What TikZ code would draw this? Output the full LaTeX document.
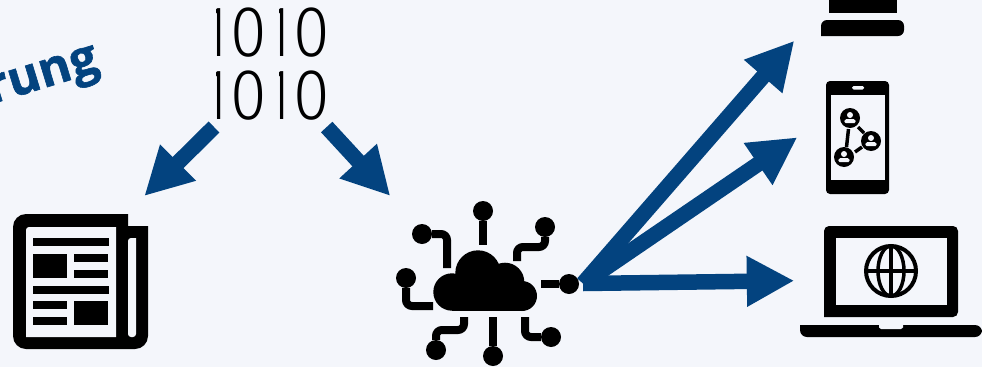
\documentclass[tikz,border=0pt]{standalone}
\usepackage{fontspec}
\usetikzlibrary{arrows.meta}
\setmainfont{Open Sans}[BoldFeatures={FakeBold=1.2}]
\newfontfamily\bitsfont{Fira Sans}[UprightFont=* Light]
\definecolor{arrowblue}{HTML}{03437F}
\definecolor{paperbg}{HTML}{F4F6FB}
\newcommand{\bitone}{\makebox[31.5pt]{\scalebox{.77}[1]{1}}}
\newcommand{\bitzero}{\makebox[31.5pt]{\hspace{1.5pt}\scalebox{.92}[1]{0}}}

\begin{document}
\begin{tikzpicture}[x=1pt, y=-1pt]
    \tikzstyle{bigarrow} = [draw=arrowblue, line width=15.5pt, -{Triangle[length=47.5pt,width=47.5pt]}]
    \tikzstyle{wire} = [draw=black, line width=8pt, rounded corners=6pt]
    \tikzstyle{pin} = [circle, fill=black, inner sep=0pt, minimum size=20pt]
    \tikzstyle{bits} = [inner sep=0pt, text=black, font=\bitsfont\fontsize{72}{72}\selectfont]
    \tikzstyle{hole} = [fill=paperbg]
    \useasboundingbox (0,0) rectangle (982,367);
    \fill[paperbg] (0,0) rectangle (982,367);

    % heading, cut by the page edge
    \node [rotate=17, text=arrowblue, font=\bfseries\fontsize{49}{49}\selectfont] (heading) at (44,80) {rung};

    % bits, the flags of the ones are covered
    \node [bits] (bitstop) at (263.5,33) {\bitone\bitzero\bitone\bitzero};
    \node [bits] (bitsbottom) at (263.5,96) {\bitone\bitzero\bitone\bitzero};
    \fill [hole] (203,4) rectangle (216,60);
    \fill [hole] (267,4) rectangle (279,60);
    \fill [hole] (203,67) rectangle (216,123);
    \fill [hole] (267,67) rectangle (279,123);

    % newspaper
    \fill [rounded corners=13pt] (13,349) -- (13,214) [sharp corners] -- (128,214) -- (128,226) -- (148,226) [rounded corners=13pt] -- (148,349) -- cycle;
    \fill [hole, rounded corners=3pt] (26,337) -- (26,227) [sharp corners] -- (116,227) -- (116,337) -- cycle;
    \fill [hole, rounded corners=3pt] (128,337) -- (128,238) [sharp corners] -- (136,238) [rounded corners=3pt] -- (136,337) -- cycle;
    \fill (33,238) rectangle (109,246);
    \fill (33,254) rectangle (67,278);
    \fill (74,254) rectangle (108,262);
    \fill (74,270) rectangle (108,278);
    \fill (33,286) rectangle (109,294);
    \fill (33,301) rectangle (67,309);
    \fill (33,317) rectangle (67,325);
    \fill (74,301) rectangle (108,325);
    \coordinate (paperin) at (144.3,196);

    % cloud
    \fill (452,292) circle (18.7);
    \fill (522,296) circle (15);
    \fill (478,273) circle (22.7);
    \fill (505,282) circle (19.3);
    \fill (452,285) rectangle (522,311);
    \coordinate (cloudin) at (390.3,196);
    \coordinate (cloudout) at (583,283.5);

    \node [pin] (pintop) at (483,211) {};
    \node [pin] (pinupright) at (545,227) {};
    \node [pin] (pinupleft) at (422,234) {};
    \node [pin] (pinleft) at (406,278) {};
    \node [pin] (pinright) at (569,284) {};
    \node [pin] (pinbottom) at (493,356) {};
    \node [pin] (pinlowleft) at (436,350) {};
    \node [pin] (pinlowright) at (551,337) {};
    \path [wire] (pintop) -- (483,245);
    \path [wire] (pinupright) -- (545,247) -- (517,247) -- (517,261);
    \path [wire] (pinupleft) -- (447,234) -- (447,268);
    \path [wire] (pinleft) -- (406,306) -- (433,306);
    \path [wire] (pinright) -- (541,284);
    \path [wire] (pinbottom) -- (493,317);
    \path [wire] (pinlowleft) -- (436,330) -- (464,330) -- (464,317);
    \path [wire] (pinlowright) -- (525,337) -- (525,317);

    % desktop
    \fill (829,0) rectangle (897,13);
    \fill [rounded corners=6pt] (821,36) -- (821,20) -- (904,20) -- (904,36) [sharp corners] -- cycle;
    \coordinate (pcin) at (794.3,40.7);

    % phone
    \fill [rounded corners=4pt] (826,81) rectangle (889,194);
    \fill [hole] (831,95) rectangle (885,180);
    \fill [hole, rounded corners=1.5pt] (852,86) rectangle (864,89.5);
    \draw [line width=3.5pt] (848.5,129) -- (846.5,147);
    \draw [line width=3.5pt] (858,127) -- (864,133);
    \draw [line width=3.5pt] (855,152) -- (862,147);
    \foreach \px/\py in {850/118, 871/141, 844/157} {
        \fill (\px,\py) circle (10);
        \fill [hole] (\px,\py-3) circle (3);
        \fill [hole, rounded corners=1.5pt] (\px-6,\py+5) -- (\px-5,\py+1) -- (\px+5,\py+1) -- (\px+6,\py+5) -- cycle;
    }
    \coordinate (phonein) at (797.3,137.3);

    % laptop
    \fill [rounded corners=5pt] (824,317) -- (824,226) -- (958,226) -- (958,317) [sharp corners] -- cycle;
    \fill [hole] (836,238) rectangle (947,305);
    \draw [line width=4pt] (891,271) circle (25);
    \draw [line width=3.5pt] (891,271) ellipse (13 and 25);
    \draw [line width=3.5pt] (891,246) -- (891,296);
    \draw [line width=3.5pt] (866,271) -- (916,271);
    \fill [rounded corners=7pt] (800,325) -- (800,337) -- (982,337) -- (982,325) [sharp corners] -- cycle;
    \fill [hole] (879,325) -- (903,325) -- (903,327.5) -- (901,329) -- (881,329) -- (879,327.5) -- cycle;
    \coordinate (laptopin) at (794.3,280.7);

    % arrows
    \coordinate (bitsleft) at (214,127);
    \coordinate (bitsright) at (326.7,127);
    \path [bigarrow] (bitsleft) -- (paperin);
    \path [bigarrow] (bitsright) -- (cloudin);
    \path [bigarrow] (cloudout) -- (pcin);
    \path [bigarrow] (cloudout) -- (phonein);
    \path [bigarrow] (cloudout) -- (laptopin);
\end{tikzpicture}
\end{document}
